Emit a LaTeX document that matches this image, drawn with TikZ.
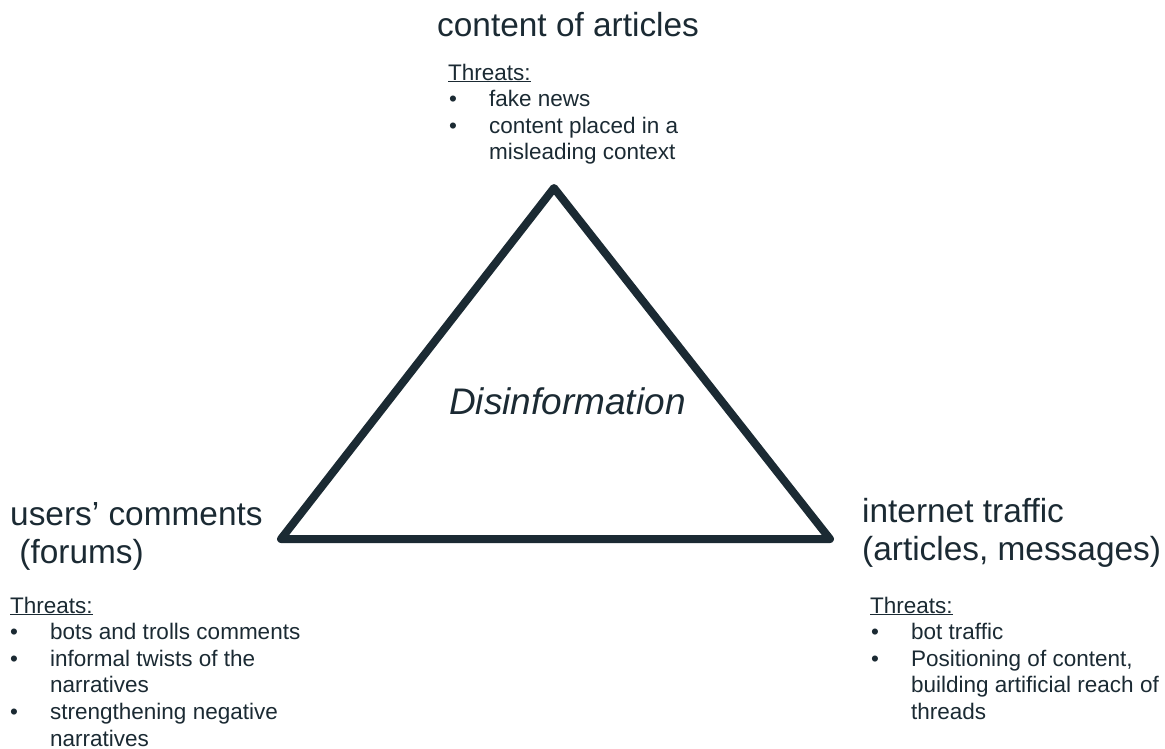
\documentclass[tikz,border=0pt]{standalone}
\usepackage{fontspec}
\setmainfont{Liberation Sans}
\definecolor{ink}{HTML}{1B2A33}
\newcommand{\bitem}[1]{\makebox[41pt][l]{\hspace{1pt}•}#1}
\newcommand{\bcont}[1]{\hspace{41pt}#1}
\begin{document}
\begin{tikzpicture}[x=1pt,y=-1pt,
  txt/.style={inner sep=0pt,anchor=base west,text=ink},
  head/.style={txt,font=\fontsize{33.4}{38}\selectfont},
  threat/.style={txt,font=\fontsize{22.5}{26.6}\selectfont},
  tri/.style={draw=ink,line width=8pt,line join=round}]
\useasboundingbox (0,0) rectangle (1165,748);
% triangle vertices
\coordinate (apex) at (554,188);
\coordinate (bl) at (281,539);
\coordinate (br) at (830,539);
\draw[tri] (apex) -- (br) -- (bl) -- cycle;
\node[txt,font=\fontsize{37}{40}\selectfont\itshape] (dis) at (449,414) {Disinformation};
% top
\node[head] (top) at (437,36) {content of articles};
\node[threat] (topthr) at (448,80) {\begin{tabular}[t]{@{}l@{}}
\underline{Threats:}\\
\bitem{fake news}\\
\bitem{content placed in a}\\
\bcont{misleading context}
\end{tabular}};
% left
\node[head] (left) at (10,525) {\begin{tabular}[t]{@{}l@{}}
users’ comments\\
\ (forums)
\end{tabular}};
\node[threat] (leftthr) at (10,613) {\begin{tabular}[t]{@{}l@{}}
\underline{Threats:}\\
\makebox[40pt][l]{•}bots and trolls comments\\
\makebox[40pt][l]{•}informal twists of the\\
\hspace{40pt}narratives\\
\makebox[40pt][l]{•}strengthening negative\\
\hspace{40pt}narratives
\end{tabular}};
% right
\node[head] (right) at (862,522) {\begin{tabular}[t]{@{}l@{}}
internet traffic\\
(articles, messages)
\end{tabular}};
\node[threat] (rightthr) at (870,613) {\begin{tabular}[t]{@{}l@{}}
\underline{Threats:}\\
\bitem{bot traffic}\\
\bitem{Positioning of content,}\\
\bcont{building artificial reach of}\\
\bcont{threads}
\end{tabular}};
\end{tikzpicture}
\end{document}
